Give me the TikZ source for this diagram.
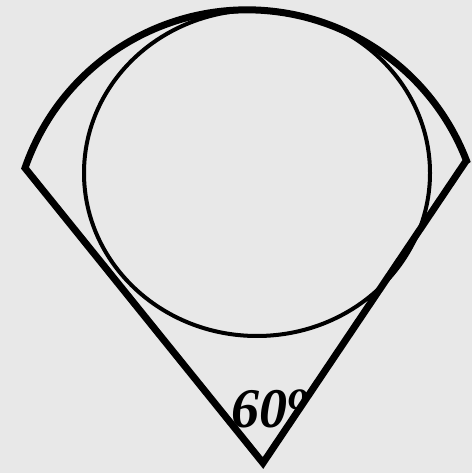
\documentclass[tikz,border=0pt]{standalone}
\usepackage{fontspec}
\setmainfont{Liberation Serif}
\definecolor{bg}{HTML}{E8E8E8}
\tikzset{
  sectorline/.style={line width=7pt, line join=miter, miter limit=10},
  incircle/.style={line width=4pt},
  anglelabel/.style={inner sep=0pt, font=\fontsize{56}{56}\selectfont\bfseries\itshape}
}
\begin{document}
\begin{tikzpicture}[x=1pt,y=1pt]
\fill[bg] (0,0) rectangle (472,473);
\useasboundingbox (0,0) rectangle (472,473);
\coordinate (apex) at (263,10);
\coordinate (left) at (25,305);
\coordinate (right) at (466,312);
\coordinate (circ) at (257,300);
\draw[sectorline] (right) -- (apex) -- (left) arc[start angle=160.9, end angle=21.0, radius=235] -- cycle;
\draw[incircle] (circ) ellipse [x radius=173, y radius=163];
\node[anglelabel, anchor=base west] (lbl) at (231,45) {60\kern1pt\raisebox{18pt}{\fontsize{42}{42}\selectfont o}};
\end{tikzpicture}
\end{document}
